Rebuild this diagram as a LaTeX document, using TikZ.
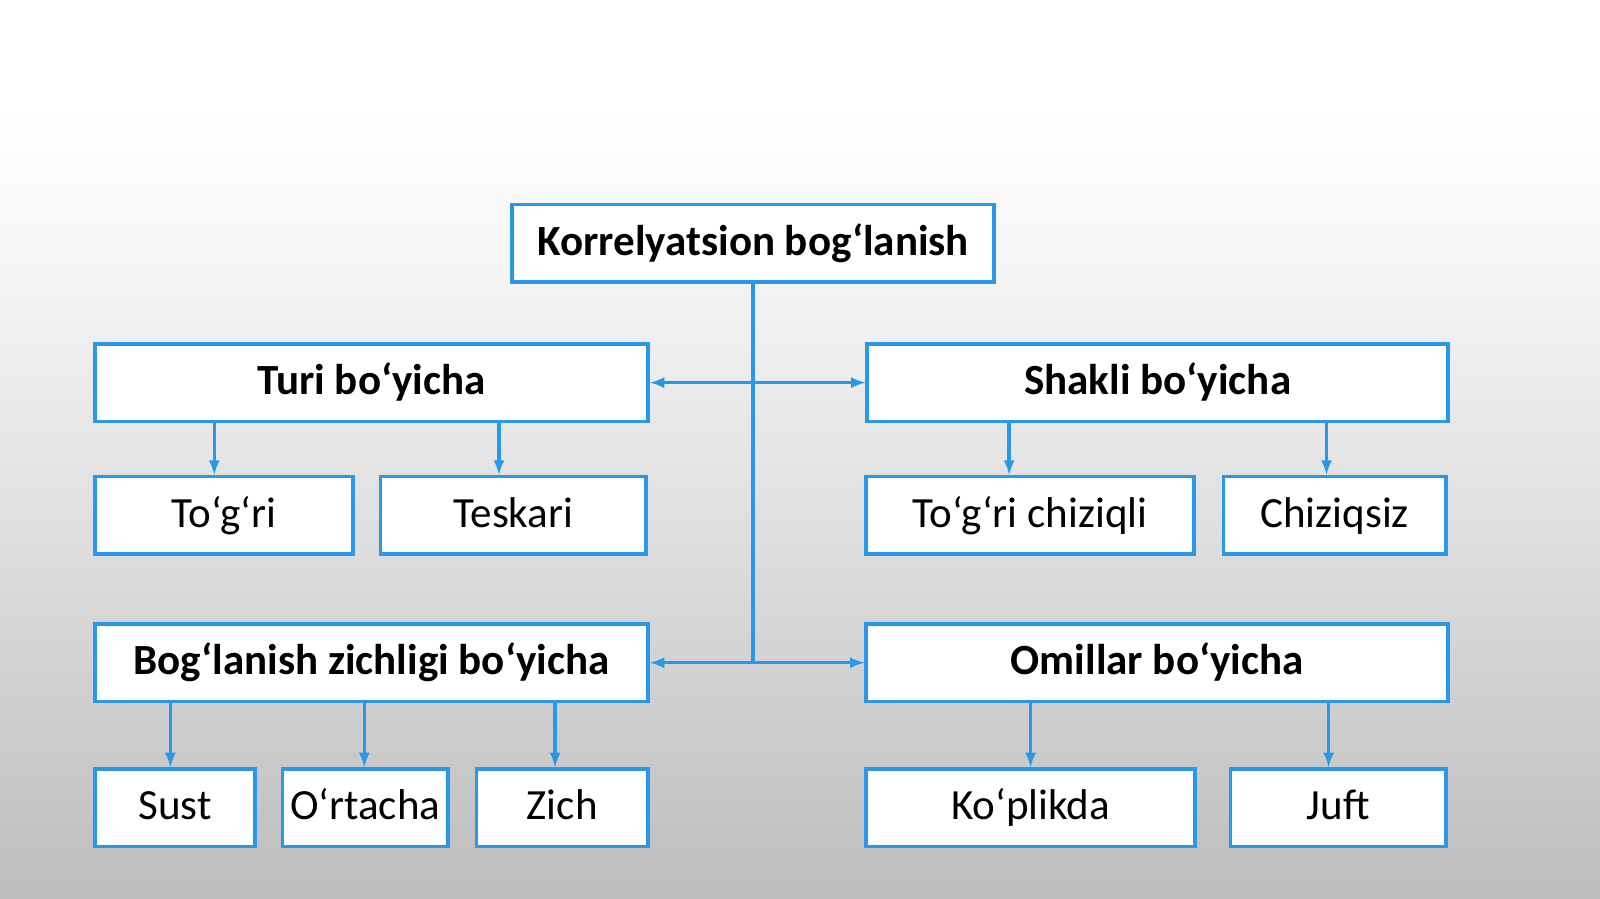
\documentclass[tikz,border=0pt]{standalone}
\usepackage{fontspec}
\setmainfont{Carlito}
\usepackage{tikz}
\usetikzlibrary{calc,positioning,arrows}
\definecolor{boxblue}{RGB}{41,152,230}
\pgfdeclareverticalshading{bgfade}{100bp}{color(0bp)=(black!26); color(25bp)=(black!26); color(45bp)=(black!13); color(60bp)=(black!4); color(69bp)=(white); color(100bp)=(white)}

\begin{document}
\begin{tikzpicture}[x=0.025cm, y=-0.025cm,
    box/.style={draw=boxblue, line width=2.6pt, fill=white, inner sep=0pt,
        minimum height=1.9cm, text height=0.8cm, text depth=0.22cm,
        font=\fontsize{30}{34}\selectfont},
    head/.style={box, font=\fontsize{30}{34}\selectfont\bfseries},
    link/.style={draw=boxblue, line width=2.4pt},
    arr/.style={link, -latex}]
        % background
        \shade[shading=bgfade] (0,0) rectangle (1568,881);
        \useasboundingbox (0,0) rectangle (1568,881);
        % main boxes
        \node[head, minimum width=11.8cm] (root) at (738,238.5) {Korrelyatsion bog‘lanish};
        \node[head, minimum width=13.55cm] (turi) at (364,375) {Turi bo‘yicha};
        \node[head, minimum width=14.225cm] (shakl) at (1134.5,375) {Shakli bo‘yicha};
        \node[head, minimum width=13.55cm] (zich) at (364,649.5) {Bog‘lanish zichligi bo‘yicha};
        \node[head, minimum width=14.25cm] (omil) at (1134,649.5) {Omillar bo‘yicha};
        % leaves
        \node[box, minimum width=6.325cm] (togri) at (219.5,505) {To‘g‘ri};
        \node[box, minimum width=6.5cm] (tesk) at (503,505) {Teskari};
        \node[box, minimum width=8.025cm] (chiz) at (1009.5,505) {To‘g‘ri chiziqli};
        \node[box, minimum width=5.45cm] (chsiz) at (1308,505) {Chiziqsiz};
        \node[box, minimum width=3.925cm] (sust) at (171.5,791.5) {Sust};
        \node[box, minimum width=4.05cm] (orta) at (358,791.5) {O‘rtacha};
        \node[box, minimum width=4.2cm] (zch) at (551,791.5) {Zich};
        \node[box, minimum width=8.05cm] (kop) at (1010,791.5) {Ko‘plikda};
        \node[box, minimum width=5.275cm] (juft) at (1311.5,791.5) {Juft};
        % trunk
        \coordinate (j1) at (root.south |- turi.east);
        \coordinate (j2) at (root.south |- zich.east);
        \draw[link] (root.south) -- (j2);
        \draw[arr] (j1) -- (turi.east);
        \draw[arr] (j1) -- (shakl.west);
        \draw[arr] (j2) -- (zich.east);
        \draw[arr] (j2) -- (omil.west);
        % branches
        \draw[arr] (turi.south -| 210,0) -- (togri.north -| 210,0);
        \draw[arr] (turi.south -| 489,0) -- (tesk.north -| 489,0);
        \draw[arr] (shakl.south -| 989,0) -- (chiz.north -| 989,0);
        \draw[arr] (shakl.south -| 1300,0) -- (chsiz.north -| 1300,0);
        \draw[arr] (zich.south -| 167,0) -- (sust.north -| 167,0);
        \draw[arr] (zich.south -| 357,0) -- (orta.north -| 357,0);
        \draw[arr] (zich.south -| 544,0) -- (zch.north -| 544,0);
        \draw[arr] (omil.south -| 1010,0) -- (kop.north -| 1010,0);
        \draw[arr] (omil.south -| 1302,0) -- (juft.north -| 1302,0);
    \end{tikzpicture}
\end{document}
